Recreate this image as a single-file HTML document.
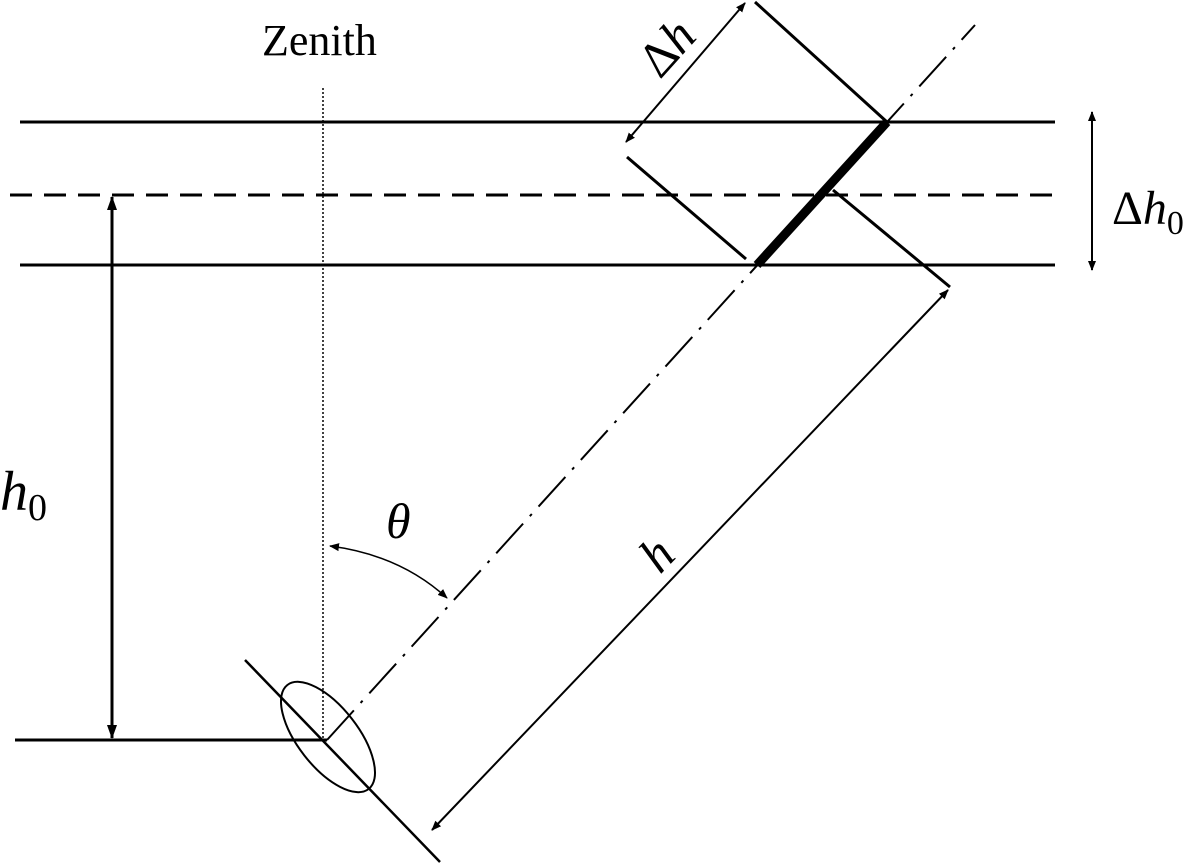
<!DOCTYPE html>
<html><head><style>body{margin:0;background:#fff}svg{display:block}</style></head><body>
<svg width="1200" height="866" viewBox="0 0 1200 866" xmlns="http://www.w3.org/2000/svg">
<defs>
<marker id="a" markerWidth="10" markerHeight="10" refX="9" refY="5" orient="auto-start-reverse" markerUnits="userSpaceOnUse"><path d="M0,1 L10,5 L0,9 Z" fill="#000"/></marker>
<marker id="b" markerWidth="14" markerHeight="14" refX="13" refY="7" orient="auto-start-reverse" markerUnits="userSpaceOnUse"><path d="M0,2 L14,7 L0,12 Z" fill="#000"/></marker>
</defs>
<g stroke="#000" fill="none">
<line x1="20" y1="122" x2="1055" y2="122" stroke-width="3"/>
<line x1="20" y1="265" x2="1055" y2="265" stroke-width="3"/>
<line x1="10" y1="195" x2="1055" y2="195" stroke-width="3" stroke-dasharray="22,12"/>
<line x1="15" y1="740" x2="327" y2="740" stroke-width="3"/>
<line x1="323" y1="88" x2="323" y2="740" stroke-width="1.5" stroke-dasharray="2,2"/>
<line x1="327" y1="740" x2="975" y2="25" stroke-width="2" stroke-dasharray="40,10,3,10"/>
<line x1="757" y1="265" x2="887" y2="122" stroke-width="9"/>
<line x1="245" y1="660" x2="440" y2="862" stroke-width="2.5"/>
<line x1="755" y1="2" x2="887" y2="122" stroke-width="3"/>
<line x1="627" y1="157" x2="746" y2="259" stroke-width="3"/>
<line x1="833" y1="190" x2="950" y2="287" stroke-width="3"/>
<ellipse cx="328" cy="737" rx="66" ry="30" transform="rotate(52 328 737)" stroke-width="2"/>
<line x1="112" y1="197" x2="112" y2="738" stroke-width="3" marker-start="url(#b)" marker-end="url(#b)"/>
<line x1="1092" y1="112" x2="1092" y2="270" stroke-width="2" marker-start="url(#a)" marker-end="url(#a)"/>
<line x1="745" y1="3" x2="626" y2="142" stroke-width="2" marker-start="url(#a)" marker-end="url(#a)"/>
<line x1="948" y1="290" x2="432" y2="830" stroke-width="2" marker-start="url(#a)" marker-end="url(#a)"/>
<path d="M330,546 Q400,555 447,598" stroke-width="1.5" marker-start="url(#a)" marker-end="url(#a)"/>
</g>
<g font-family="Liberation Serif, serif" fill="#000">
<text x="262" y="55" font-size="44">Zenith</text>
<text x="386" y="538" font-size="50" font-style="italic">θ</text>
<text x="0" y="510" font-size="56" font-style="italic">h<tspan font-size="38" font-style="normal" dy="10">0</tspan></text>
<text x="1112" y="224" font-size="48">Δ<tspan font-style="italic">h</tspan><tspan font-size="34" dy="10">0</tspan></text>
<text transform="translate(660,80) rotate(-48)" font-size="50">Δ<tspan font-style="italic">h</tspan></text>
<text transform="translate(660,575) rotate(-46)" font-size="50" font-style="italic">h</text>
</g>
</svg>
</body></html>
